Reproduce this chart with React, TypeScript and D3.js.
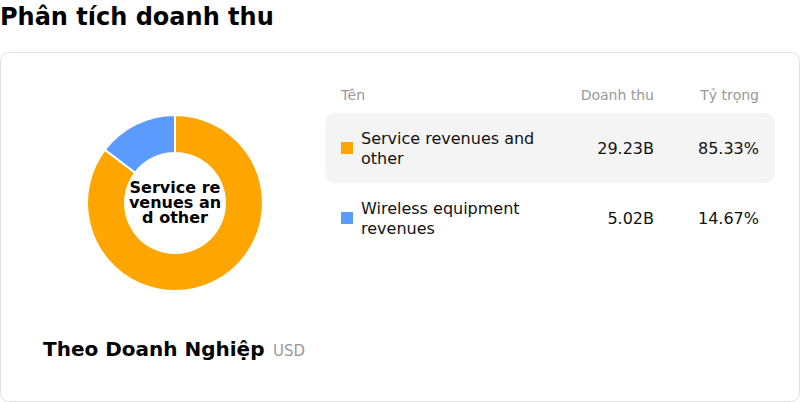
import React from "react";
import * as d3 from "d3";

const categories = ["Service revenues and other", "Wireless equipment revenues"];
const nameLines = [["Service revenues and", "other"], ["Wireless equipment", "revenues"]];
const revenues = [29.23, 5.02];
const revenueLabels = ["29.23B", "5.02B"];
const shareLabels = ["85.33%", "14.67%"];
const colors = ["#FFA500", "#5B9BFF"];
const centerLines = ["Service re", "venues an", "d other"];
const headers = ["Tên", "Doanh thu", "Tỷ trọng"];

const FONT = "'DejaVu Sans', sans-serif";

export default function App() {
  const W = 800, H = 402;
  const cx = 175, cy = 203;
  const pie = d3.pie<number>().sort(null).value((d) => d);
  const arcs = pie(revenues);
  const arc = d3.arc<d3.PieArcDatum<number>>().innerRadius(50).outerRadius(88);

  const rowY = d3.scaleBand<number>().domain(categories.map((_, i) => i)).range([113, 253]).paddingInner(0);

  return (
    <svg width={W} height={H} style={{ position: "absolute", left: 0, top: 0, fontFamily: FONT }}>
      <rect x={0} y={0} width={W} height={H} fill="#fff" />
      <text x={0} y={25} fontSize={24} fontWeight="bold" fill="#000">Phân tích doanh thu</text>
      <rect x={0.5} y={52.5} width={799} height={349} rx={8} fill="#fff" stroke="#E2E0EE" />

      <g transform={`translate(${cx},${cy})`}>
        {arcs.map((a, i) => (
          <path key={i} d={arc(a) || ""} fill={colors[i]} stroke="#fff" strokeWidth={2} />
        ))}
        {centerLines.map((l, i) => (
          <text key={i} x={0} y={-10 + i * 15} textAnchor="middle" fontSize={16} fontWeight="bold" fill="#000">{l}</text>
        ))}
      </g>

      <text x={43} y={356} fontSize={20} fontWeight="bold" fill="#000">Theo Doanh Nghiệp</text>
      <text x={273} y={356} fontSize={15} fill="#999">USD</text>

      <text x={341} y={100} fontSize={14} fill="#999">{headers[0]}</text>
      <text x={654} y={100} fontSize={14} fill="#999" textAnchor="end">{headers[1]}</text>
      <text x={759} y={100} fontSize={14} fill="#999" textAnchor="end">{headers[2]}</text>

      {categories.map((c, i) => {
        const y0 = rowY(i)!;
        const h = rowY.bandwidth();
        const mid = y0 + h / 2;
        return (
          <g key={c}>
            {i === 0 && <rect x={325} y={y0} width={450} height={h} rx={10} fill="#F4F4F4" />}
            <rect x={341} y={mid - 6} width={12} height={12} fill={colors[i]} />
            {nameLines[i].map((l, j) => (
              <text key={j} x={361} y={mid - 10 + j * 20} dominantBaseline="central" fontSize={16} fill="#111">{l}</text>
            ))}
            <text x={654} y={mid} dominantBaseline="central" textAnchor="end" fontSize={16} fill="#111">{revenueLabels[i]}</text>
            <text x={759} y={mid} dominantBaseline="central" textAnchor="end" fontSize={16} fill="#111">{shareLabels[i]}</text>
          </g>
        );
      })}
    </svg>
  );
}
